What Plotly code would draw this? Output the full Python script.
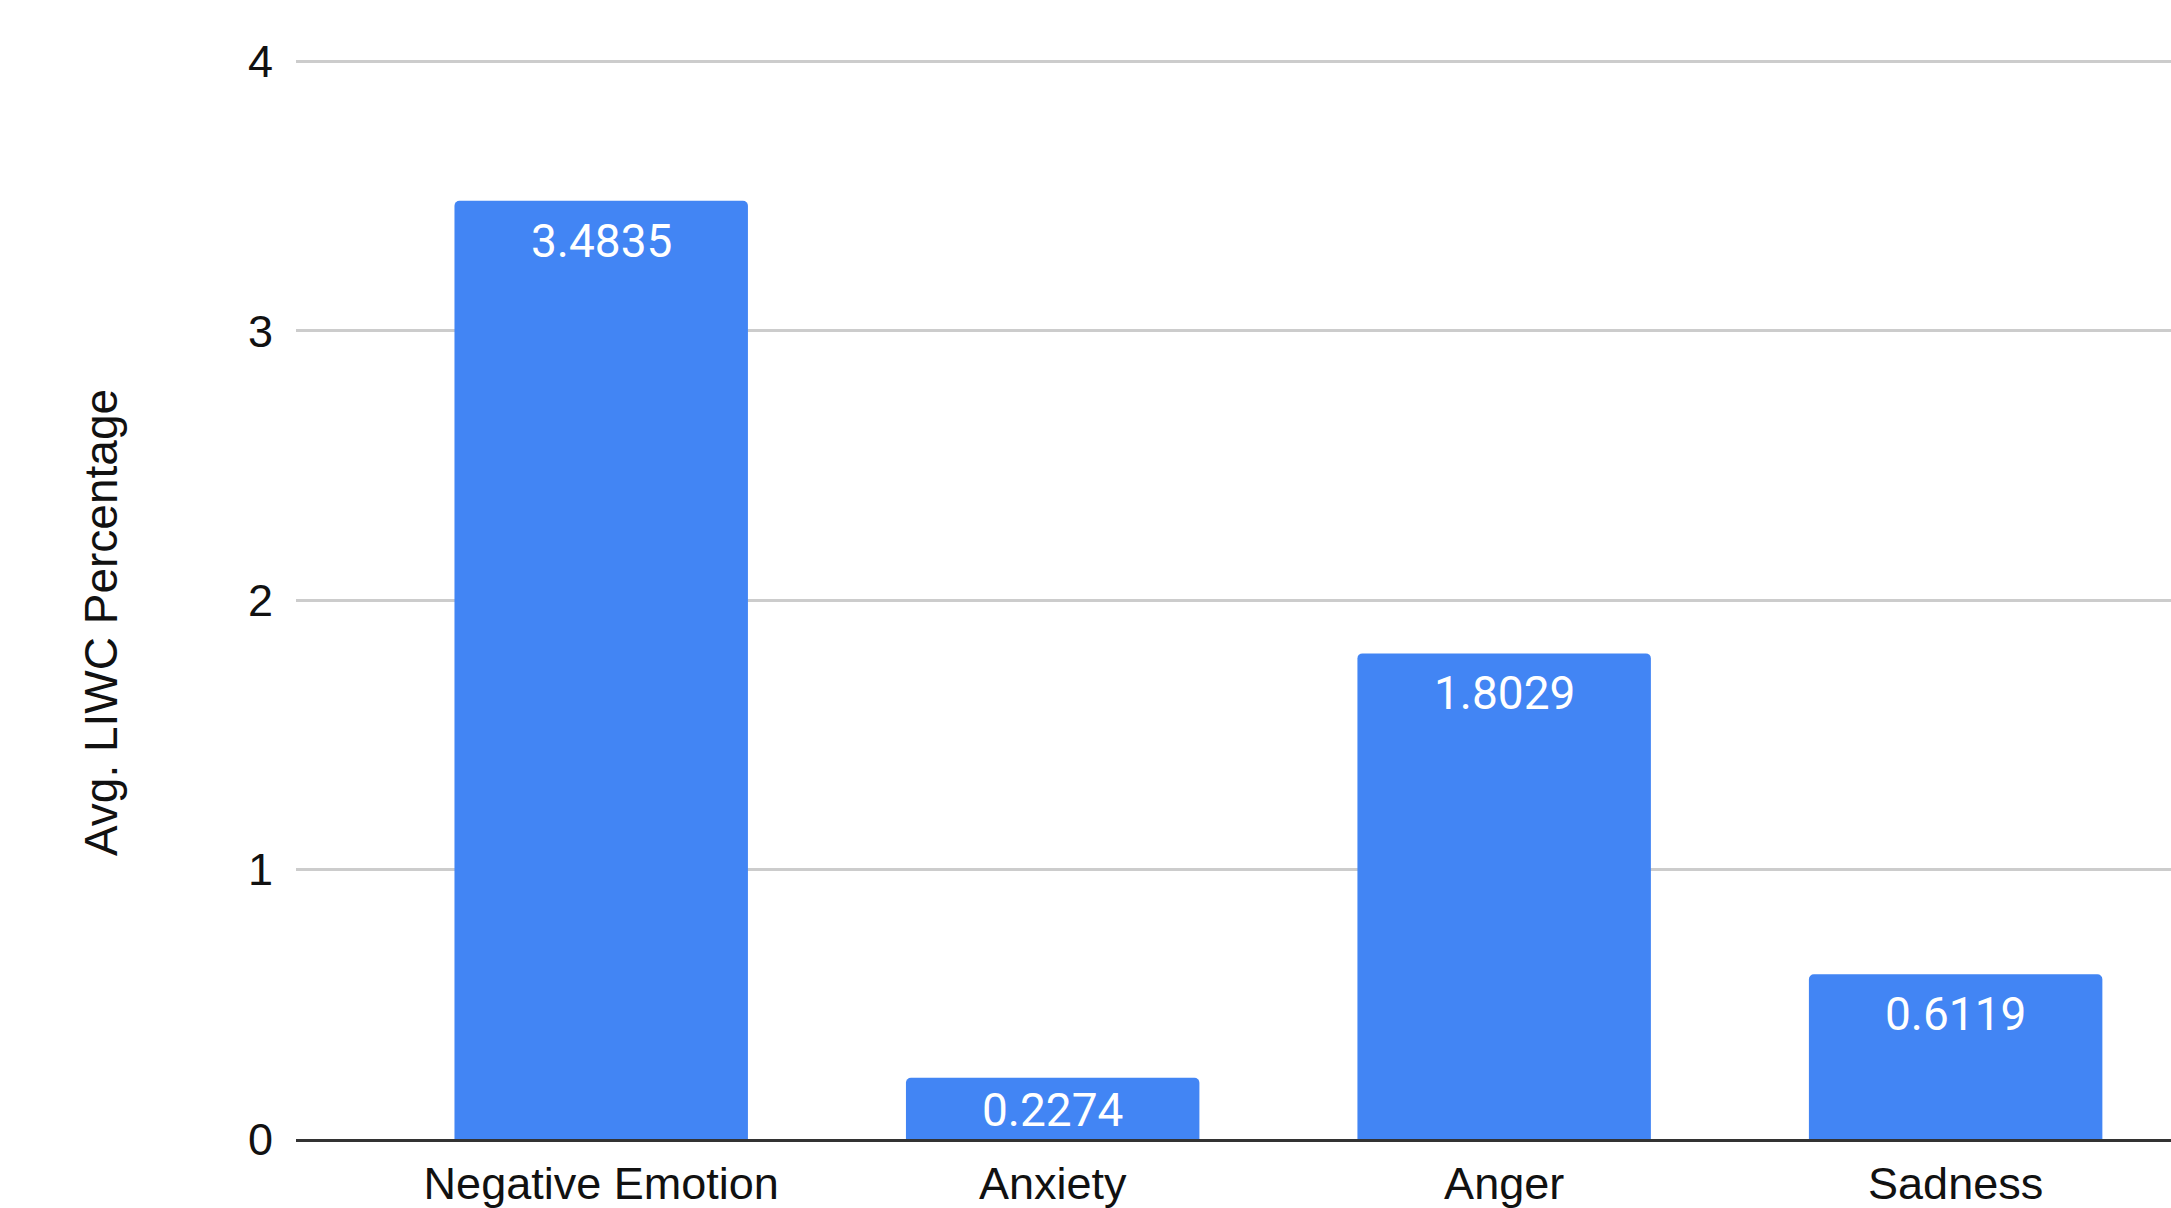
import plotly.graph_objects as go

categories = ["Negative Emotion", "Anxiety", "Anger", "Sadness"]
values = [3.4835, 0.2274, 1.8029, 0.6119]
labels = ["3.4835", "0.2274", "1.8029", "0.6119"]
y_ticks = [0, 1, 2, 3, 4]

W, H = 2171, 1208
mt, mb, ml, mr = 60, 69, 296, 0
y_range = [0, 4.006]
px_per_unit = (H - mt - mb) / (y_range[1] - y_range[0])

fig = go.Figure()
fig.add_trace(go.Bar(
    x=list(range(len(categories))), y=values,
    marker=dict(color="#4285F4", cornerradius=5, line=dict(width=0)),
    hoverinfo="skip",
))

label_off = 40  # px from bar top to label center
for i, (v, t) in enumerate(zip(values, labels)):
    bar_px = v * px_per_unit
    if bar_px < 2 * label_off:
        fig.add_annotation(x=i, y=v / 2, text=t, showarrow=False, yanchor="middle",
                           yshift=-2,
                           font=dict(family="Roboto", size=46, color="white"))
    else:
        fig.add_annotation(x=i, y=v, text=t, showarrow=False, yanchor="middle",
                           yshift=-label_off,
                           font=dict(family="Roboto", size=46, color="white"))

fig.add_annotation(xref="paper", yref="paper", x=(101 - ml) / (W - ml - mr),
                   y=(H - mb - 623) / (H - mt - mb), text="Avg. LIWC Percentage",
                   textangle=-90, showarrow=False, xanchor="center", yanchor="middle",
                   font=dict(family="Liberation Sans", size=46, color="#111111"))

fig.update_layout(
    width=W, height=H,
    margin=dict(l=ml, r=mr, t=mt, b=mb, pad=0, autoexpand=False),
    paper_bgcolor="white", plot_bgcolor="white",
    bargap=0.35, showlegend=False,
    font=dict(family="Liberation Sans", size=45, color="#111111"),
)
fig.update_xaxes(
    tickmode="array", tickvals=list(range(len(categories))), ticktext=categories,
    range=[-0.676, 3.477], showgrid=False, zeroline=False, automargin=False,
    showline=True, linecolor="#333333", linewidth=3, ticks="",
    ticklabelstandoff=3,
    tickfont=dict(family="Liberation Sans", size=45, color="#111111"),
)
fig.update_yaxes(
    range=y_range, tickvals=y_ticks, showgrid=True, gridcolor="#cccccc", gridwidth=3,
    zeroline=False, showline=False, ticks="", ticklabelstandoff=22, automargin=False,
    tickfont=dict(family="Liberation Sans", size=45, color="#111111"),
)

fig.write_html("out.html")
